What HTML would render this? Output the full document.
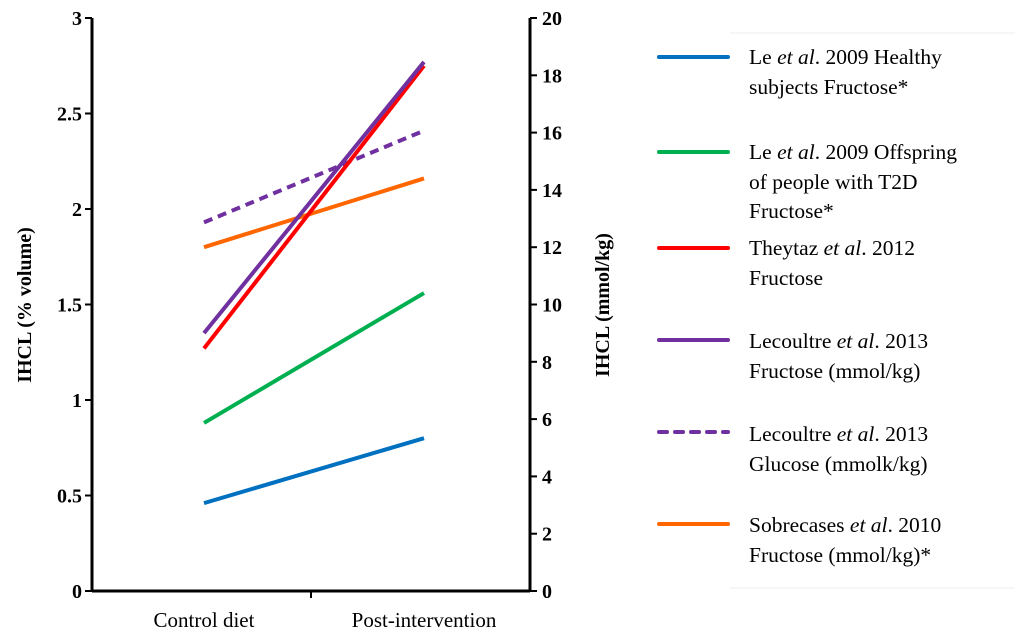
<!DOCTYPE html>
<html><head><meta charset="utf-8"><style>
body{margin:0;background:#fff;width:1024px;height:634px;overflow:hidden;font-family:"Liberation Serif",serif;}
svg text{font-family:"Liberation Serif",serif;}
</style></head><body>
<svg width="1024" height="634">
<g id="axes"></g><g id="series"></g><g id="legend"></g>
</svg>
<script>
const categories=["Control diet","Post-intervention"];
const leftTicks=[0,0.5,1,1.5,2,2.5,3];
const leftTickLabels=["0","0.5","1","1.5","2","2.5","3"];
const rightTicks=[0,2,4,6,8,10,12,14,16,18,20];
const seriesNames=["Le et al. 2009 Healthy subjects Fructose*","Le et al. 2009 Offspring of people with T2D Fructose*","Theytaz et al. 2012 Fructose","Lecoultre et al. 2013 Fructose (mmol/kg)","Lecoultre et al. 2013 Glucose (mmolk/kg)","Sobrecases et al. 2010 Fructose (mmol/kg)*"];
const blueVals=[0.46,0.80];
const greenVals=[0.88,1.56];
const redVals=[1.27,2.75];
const purpleVals=[1.35,2.77];
const purpleDashVals=[1.93,2.41];
const orangeVals=[1.80,2.16];
const NS="http://www.w3.org/2000/svg";
const X0=92,X1=530,Y0=591,Y1=18;
const yL=v=>Y0-(v/3)*(Y0-Y1);
const yR=v=>Y0-(v/20)*(Y0-Y1);
const xC=i=>204+220*i;
function mk(tag,attrs,parent,txt){const e=document.createElementNS(NS,tag);for(const k in attrs)e.setAttribute(k,attrs[k]);if(txt!=null)e.textContent=txt;parent.appendChild(e);return e;}
const ax=document.getElementById('axes');
let e;
e=mk('line',{x1:X0,y1:Y1,x2:X0,y2:Y0,stroke:'#000','stroke-width':3},ax);

e=mk('line',{x1:X1,y1:Y1,x2:X1,y2:Y0,stroke:'#000','stroke-width':3},ax);

e=mk('line',{x1:X0,y1:Y0,x2:X1,y2:Y0,stroke:'#000','stroke-width':3},ax);

leftTicks.forEach((v,i)=>{const y=yL(v);
 mk('line',{x1:X0-7,y1:y,x2:X0,y2:y,stroke:'#000','stroke-width':2},ax);
 e=mk('text',{x:X0-10,y:y+7,'text-anchor':'end','font-size':20,'font-weight':'bold'},ax,leftTickLabels[i]);
 });
rightTicks.forEach(v=>{const y=yR(v);
 mk('line',{x1:X1,y1:y,x2:X1+7,y2:y,stroke:'#000','stroke-width':2},ax);
 e=mk('text',{x:X1+12,y:y+7,'text-anchor':'start','font-size':20,'font-weight':'bold'},ax,String(v));
 });
mk('line',{x1:(X0+X1)/2,y1:Y0,x2:(X0+X1)/2,y2:Y0+7,stroke:'#000','stroke-width':2},ax);
categories.forEach((c,i)=>{e=mk('text',{x:xC(i),y:627,'text-anchor':'middle','font-size':21},ax,c);
 });
e=mk('text',{x:0,y:0,'font-size':20,'font-weight':'bold','text-anchor':'middle',transform:'translate(31,305) rotate(-90)'},ax,'IHCL (% volume)');

e=mk('text',{x:0,y:0,'font-size':20,'font-weight':'bold','text-anchor':'middle',transform:'translate(609,305) rotate(-90)'},ax,'IHCL (mmol/kg)');

const sg=document.getElementById('series');
const defs=[[blueVals,'#0070c0',''],[greenVals,'#00b050',''],[redVals,'#ff0000',''],[purpleVals,'#7030a0',''],[purpleDashVals,'#7030a0','9,6'],[orangeVals,'#ff6600','']];
const order=[0,1,5,4,2,3];
order.forEach(k=>{const d=defs[k];
 e=mk('line',{x1:xC(0),y1:yL(d[0][0]),x2:xC(1),y2:yL(d[0][1]),stroke:d[1],'stroke-width':4,'stroke-dasharray':d[2]||'none'},sg);
 });
const lg=document.getElementById('legend');
mk('line',{x1:730,y1:33,x2:1015,y2:33,stroke:'#eee','stroke-width':1},lg);
mk('line',{x1:730,y1:588,x2:1015,y2:588,stroke:'#eee','stroke-width':1},lg);
const legendLines=[
 [["Le ",0],["et al",1],[". 2009 Healthy",0]],[["subjects Fructose*",0]],
 [["Le ",0],["et al",1],[". 2009 Offspring",0]],[["of people with  T2D",0]],[["Fructose*",0]],
 [["Theytaz ",0],["et al",1],[". 2012",0]],[["Fructose",0]],
 [["Lecoultre ",0],["et al",1],[". 2013",0]],[["Fructose (mmol/kg)",0]],
 [["Lecoultre ",0],["et al",1],[". 2013",0]],[["Glucose (mmolk/kg)",0]],
 [["Sobrecases ",0],["et al",1],[". 2010",0]],[["Fructose (mmol/kg)*",0]]];
const lineYs=[64,94,159,189,218,255,285,348,378,441,471,532,562];
const swatchY=[57,152,248,340,432,524];
defs.forEach((d,i)=>{e=mk('line',{x1:659,y1:swatchY[i],x2:728,y2:swatchY[i],stroke:d[1],'stroke-width':4,'stroke-linecap':'round','stroke-dasharray':d[2]?'8,8':'none'},lg);
 });
legendLines.forEach((parts,i)=>{const t=mk('text',{x:749,y:lineYs[i],'font-size':21.5},lg);
 
 parts.forEach(p=>{mk('tspan',p[1]?{'font-style':'italic'}:{},t,p[0]);});});
</script>
</body></html>
